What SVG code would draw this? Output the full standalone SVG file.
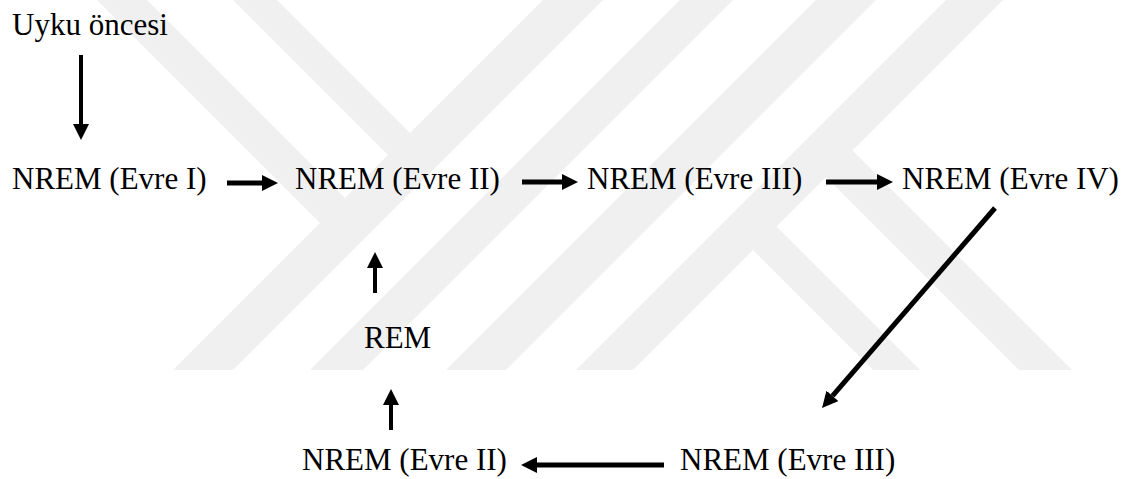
<svg xmlns="http://www.w3.org/2000/svg" width="1128" height="479" viewBox="0 0 1128 479">
<style>
.t{font-family:"Liberation Serif","Times New Roman",serif;font-size:31px;fill:#000}
.wm{fill:#f0f0f0;stroke:none}
.a{stroke:#000;fill:none;marker-end:url(#ah)}
.h{stroke-width:5}
.v{stroke-width:4}
</style>
<defs>
<marker id="ah" markerUnits="userSpaceOnUse" markerWidth="16" markerHeight="16" viewBox="0 0 16 16" refX="0" refY="8" orient="auto">
<path d="M0,0 L16,8 L0,16 Z" fill="#000"/>
</marker>
</defs>
<rect width="1128" height="479" fill="#fff"/>
<g id="watermark">
<polygon class="wm" points="543,0 603,0 233,370 173,370"/>
<polygon class="wm" points="680,0 733,0 363,370 310,370"/>
<polygon class="wm" points="816,0 876,0 506,370 446,370"/>
<polygon class="wm" points="946,0 1003,0 633,370 576,370"/>
<polygon class="wm" points="97,0 147,0 353.5,206.5 328.5,231.5"/>
<polygon class="wm" points="233,0 277,0 418.5,141.5 396.5,163.5"/>
<polygon class="wm" points="770,220 920,370 873,370 746.5,243.5"/>
<polygon class="wm" points="846,144 1072,370 1019,370 819.5,170.5"/>
</g>
<g id="connectors">
<line class="a v" x1="81" y1="55" x2="81" y2="124"/>
<line class="a h" x1="227" y1="183" x2="262" y2="183"/>
<line class="a h" x1="522" y1="182" x2="562" y2="182"/>
<line class="a h" x1="826" y1="182" x2="877" y2="182"/>
<line class="a h" x1="995" y1="208" x2="832.5" y2="395.9"/>
<line class="a h" x1="664" y1="465" x2="537" y2="465"/>
<line class="a v" x1="391" y1="430" x2="391" y2="405"/>
<line class="a v" x1="375" y1="293" x2="375" y2="268"/>
</g>
<g id="n-uyku"><text class="t" x="12" y="35">Uyku öncesi</text></g>
<g id="n-nrem1"><text class="t" x="12" y="189">NREM (Evre I)</text></g>
<g id="n-nrem2"><text class="t" x="295" y="189">NREM (Evre II)</text></g>
<g id="n-nrem3"><text class="t" x="587" y="189">NREM (Evre III)</text></g>
<g id="n-nrem4"><text class="t" x="902" y="189">NREM (Evre IV)</text></g>
<g id="n-rem"><text class="t" x="364" y="348">REM</text></g>
<g id="n-nrem2b"><text class="t" x="302" y="470">NREM (Evre II)</text></g>
<g id="n-nrem3b"><text class="t" x="680" y="470">NREM (Evre III)</text></g>
</svg>
